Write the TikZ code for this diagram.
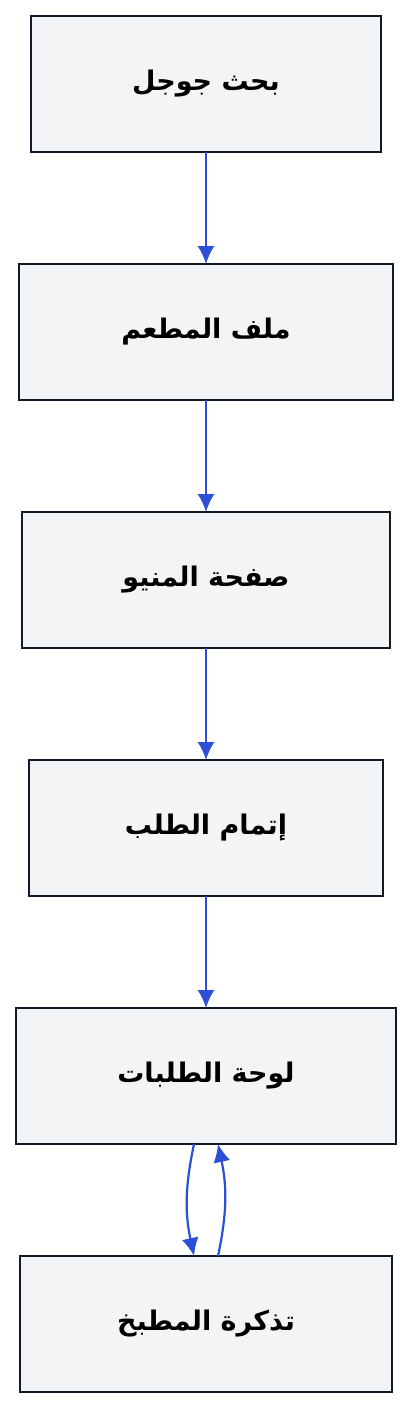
\documentclass[tikz,border=0pt]{standalone}
\usepackage{fontspec}
\newfontfamily\arabicfont[Script=Arabic]{DejaVu Sans}
\TeXXeTstate=1
\usetikzlibrary{positioning}
\usetikzlibrary{arrows.meta}
\definecolor{boxfill}{HTML}{F3F4F6}
\definecolor{boxline}{HTML}{111827}
\definecolor{flow}{HTML}{2A50D8}

\begin{document}
\begin{tikzpicture}[x=1pt,y=-1pt,
	box/.style={minimum height=136pt,outer sep=0pt,draw=boxline,line width=2pt,fill=boxfill,font=\arabicfont\bfseries\fontsize{27}{32}\selectfont},
	link/.style={-{Latex[length=18pt,width=17pt]},draw=flow,line width=2.2pt}]
	\useasboundingbox (0,0) rectangle (412,1408);

	\node [box,minimum width=350pt] at (206,84) (search) {\beginR بحث جوجل\endR};
	\node [box,minimum width=374pt] at (206,332) (profile) {\beginR ملف المطعم\endR};
	\node [box,minimum width=368pt] at (206,580) (menu) {\beginR صفحة المنيو\endR};
	\node [box,minimum width=354pt] at (206,828) (checkout) {\beginR إتمام الطلب\endR};
	\node [box,minimum width=380pt] at (206,1076) (board) {\beginR لوحة الطلبات\endR};
	\node [box,minimum width=372pt] at (206,1324) (ticket) {\beginR تذكرة المطبخ\endR};

	\draw[link] (search.south) -- (profile.north);
	\draw[link] (profile.south) -- (menu.north);
	\draw[link] (menu.south) -- (checkout.north);
	\draw[link] (checkout.south) -- (board.north);

	% board and ticket talk both ways
	\draw[link] ([xshift=-12pt]board.south) to[bend right=12] ([xshift=-12pt]ticket.north);
	\draw[link] ([xshift=12pt]ticket.north) to[bend right=12] ([xshift=12pt]board.south);
\end{tikzpicture}
\end{document}
